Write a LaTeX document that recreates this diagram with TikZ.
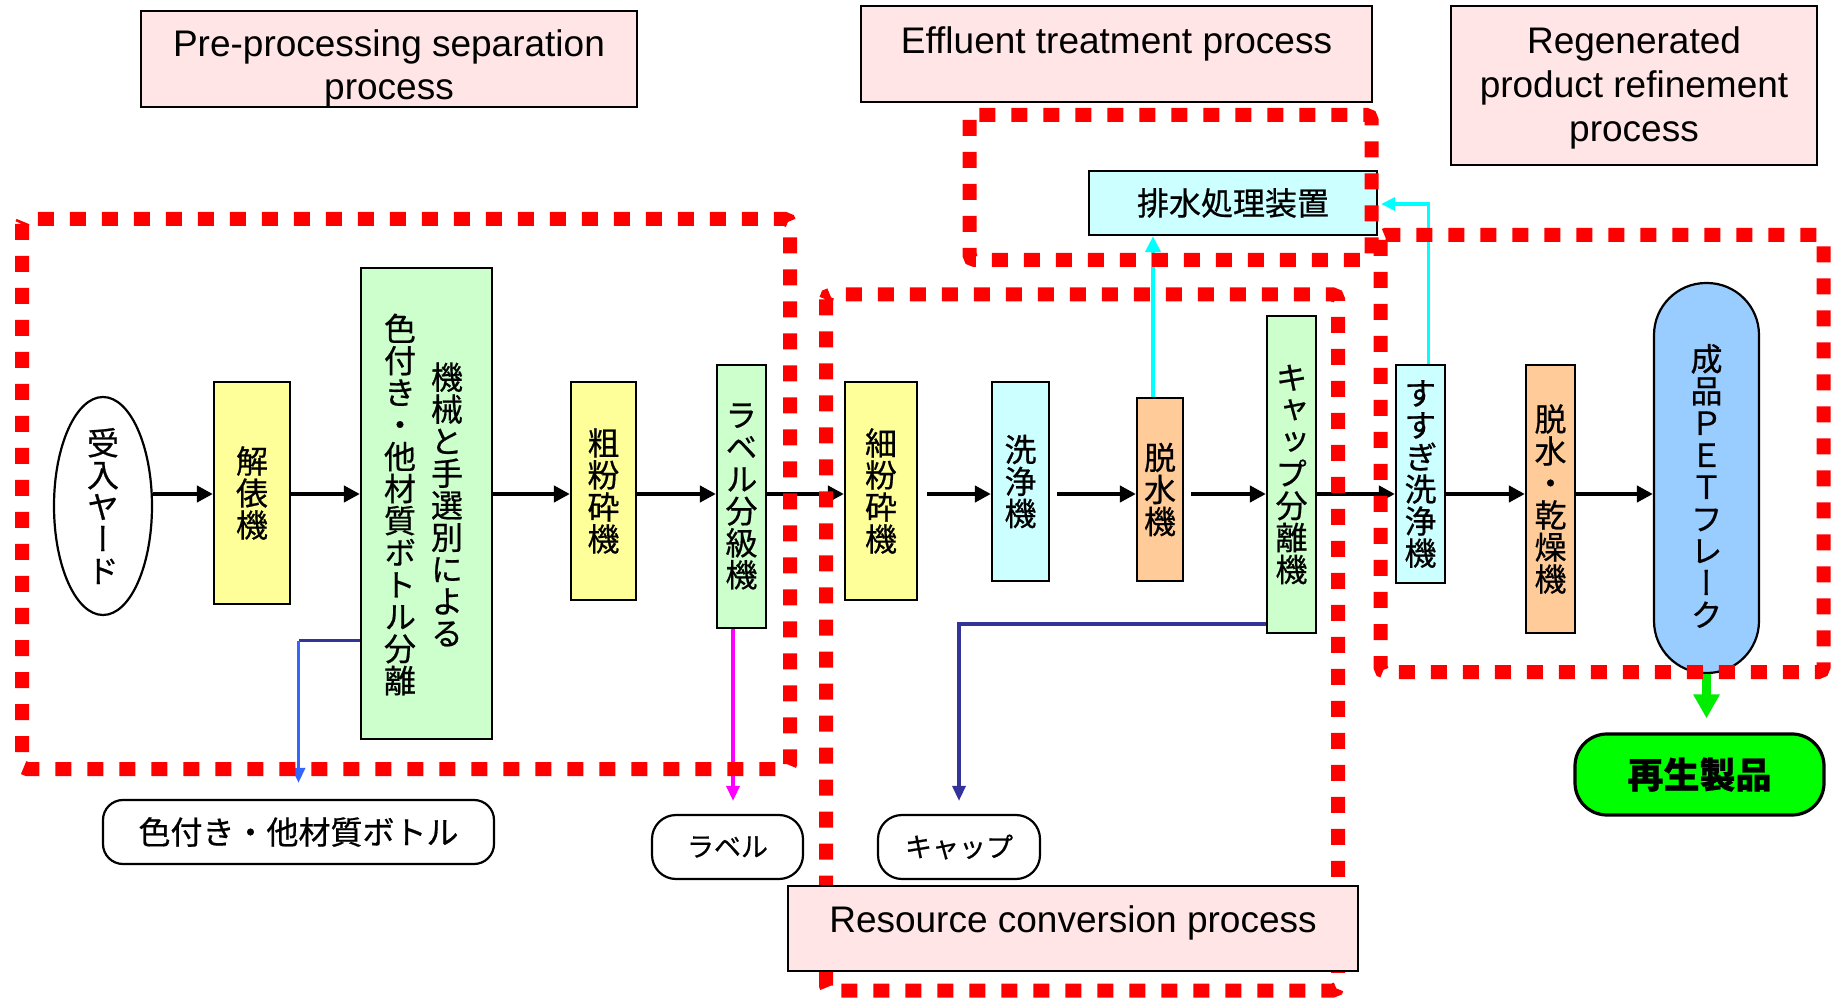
\documentclass[tikz,border=0pt]{standalone}
\usepackage{fontspec}
\setmainfont{Liberation Sans}
\newfontfamily\jp[FakeBold=0.6]{Noto Sans CJK JP}
\newfontfamily\jpv[RawFeature=+vert,FakeBold=0.6]{Noto Sans CJK JP}
\usetikzlibrary{arrows.meta,shapes.geometric,calc}

\definecolor{boxyellow}{HTML}{FFFF99}
\definecolor{boxgreen}{HTML}{CCFFCC}
\definecolor{boxcyan}{HTML}{CCFFFF}
\definecolor{boxorange}{HTML}{FFCC99}
\definecolor{boxblue}{HTML}{99CCFF}
\definecolor{prodgreen}{HTML}{00FF00}
\definecolor{titlepink}{HTML}{FFE5E5}
\definecolor{navyline}{HTML}{333399}
\definecolor{blueline}{HTML}{3366FF}
\definecolor{magline}{HTML}{FF00FF}
\definecolor{cyanline}{HTML}{00FFFF}
\definecolor{zonered}{HTML}{FF0000}

\begin{document}
\begin{tikzpicture}[x=0.5pt, y=-0.5pt,
  machine/.style={draw=black, line width=1.1pt, inner sep=0pt, align=center,
    font=\jpv\fontsize{16}{16}\selectfont},
  vtext/.style={inner sep=0pt, align=center, font=\jpv\fontsize{16}{16}\selectfont},
  outbox/.style={draw=black, line width=1.1pt, fill=white, inner sep=0pt,
    rounded corners=12pt, minimum height=32pt, font=\jp\fontsize{13.5}{13.5}\selectfont},
  titlebox/.style={draw=black, line width=1.1pt, fill=titlepink, inner sep=0pt},
  titletext/.style={inner sep=0pt, align=center, font=\fontsize{18.5}{21.5}\selectfont},
  zone/.style={draw=zonered, line width=7pt, dash pattern=on 8pt off 8pt, rounded corners=2.5pt},
  flow/.style={line width=2.3pt, -{Triangle[length=8pt,width=8pt]}},
  side/.style={line width=1.7pt, -{Triangle[length=7.5pt,width=6.5pt]}},
]
\useasboundingbox (0,0) rectangle (1836,999);
\coordinate (mainline) at (0,494);

% ---- process units ----
\node[ellipse, draw=black, line width=1.1pt, fill=white, inner sep=0pt,
      minimum width=49pt, minimum height=109pt] (yard) at (103,506) {};
\node[vtext] at (yard) {受\\入\\ヤ\\ー\\ド};

\node[machine, fill=boxyellow, minimum width=38pt, minimum height=111pt] (kaihyo) at (252,493) {解\\俵\\機};

\node[machine, fill=boxgreen, minimum width=65.5pt, minimum height=235.5pt] (sep) at (426.5,503.5) {};
\node[vtext] at (447,504.5) {機\\械\\と\\手\\選\\別\\に\\よ\\る};
\node[vtext] at (400,504.5) {色\\付\\き\\・\\他\\材\\質\\ボ\\ト\\ル\\分\\離};

\node[machine, fill=boxyellow, minimum width=32.5pt, minimum height=109pt] (coarse) at (603.5,491) {粗\\粉\\砕\\機};
\node[machine, fill=boxgreen, minimum width=24.5pt, minimum height=131.5pt] (lblsep) at (741.5,496.5) {ラ\\ベ\\ル\\分\\級\\機};
\node[machine, fill=boxyellow, minimum width=36pt, minimum height=109pt] (fine) at (881,491) {細\\粉\\砕\\機};
\node[machine, fill=boxcyan, minimum width=28.5pt, minimum height=99.5pt] (wash) at (1020.5,481.5) {洗\\浄\\機};
\node[machine, fill=boxorange, minimum width=23pt, minimum height=91.5pt] (dewat) at (1160,489.5) {脱\\水\\機};
\node[machine, fill=boxgreen, minimum width=24.5pt, minimum height=158.5pt] (capsep) at (1291.5,474.5) {キ\\ャ\\ッ\\プ\\分\\離\\機};
\node[machine, fill=boxcyan, minimum width=24.5pt, minimum height=109pt] (rinse) at (1420.5,474) {す\\す\\ぎ\\洗\\浄\\機};
\node[machine, fill=boxorange, minimum width=24.5pt, minimum height=134pt] (dry) at (1550.5,499) {脱\\水\\・\\乾\\燥\\機};
\node[machine, fill=boxblue, rounded corners=26pt, minimum width=52.5pt, minimum height=195pt] (flake) at (1706.5,478) {};
\node[vtext] at (1706.5,486) {成\\品\\Ｐ\\Ｅ\\Ｔ\\フ\\レ\\ー\\ク};

\node[machine, fill=boxcyan, minimum width=144pt, minimum height=32pt,
      font=\jp\fontsize{16}{16}\selectfont] (haisui) at (1233,203) {排水処理装置};

% ---- outputs ----
\node[draw=black, line width=1.6pt, fill=prodgreen, rounded corners=16pt, inner sep=0pt,
      minimum width=124.5pt, minimum height=40.5pt,
      font=\jp\bfseries\fontsize{18}{18}\selectfont] (prod) at (1699.5,774.5) {再生製品};
\node[outbox, rounded corners=10pt, minimum width=195.5pt, font=\jp\fontsize{16}{16}\selectfont]
      (colored) at (298.5,832) {色付き・他材質ボトル};
\node[outbox, minimum width=75.5pt] (label) at (727.5,847) {ラベル};
\node[outbox, minimum width=81pt] (cap) at (959,847) {キャップ};

% ---- main flow ----
\draw[flow] (yard.east |- mainline) -- (kaihyo.west |- mainline);
\draw[flow] (kaihyo.east |- mainline) -- (sep.west |- mainline);
\draw[flow] (sep.east |- mainline) -- (coarse.west |- mainline);
\draw[flow] (coarse.east |- mainline) -- (lblsep.west |- mainline);
\draw[flow] (lblsep.east |- mainline) -- (fine.west |- mainline);
\draw[flow, shorten <=4.5pt] (fine.east |- mainline) -- (wash.west |- mainline);
\draw[flow, shorten <=3.5pt] (wash.east |- mainline) -- (dewat.west |- mainline);
\draw[flow, shorten <=3.5pt] (dewat.east |- mainline) -- (capsep.west |- mainline);
\draw[flow] (capsep.east |- mainline) -- (rinse.west |- mainline);
\draw[flow] (rinse.east |- mainline) -- (dry.west |- mainline);
\draw[flow] (dry.east |- mainline) -- (flake.west |- mainline);

% ---- side streams ----
\coordinate (sepout) at ($(sep.west)+(0,137)$);
\coordinate (bend1) at (sepout -| colored.north);
\draw[navyline, line width=1.9pt] (sepout) -- (bend1);
\draw[side, blueline] (bend1) -- ($(colored.north)+(0,-16)$);

\coordinate (lblout) at ($(lblsep.south)+(-8.5,0)$);
\draw[side, magline] (lblout) -- ($(lblout |- label.north)+(0,-13)$);

\draw[side, navyline] ($(capsep.west)+(0,149.5)$) -| ($(cap.north)+(0,-13)$);

\coordinate (dwout) at ($(dewat.north)+(-7,0)$);
\draw[cyanline, line width=2.3pt, -{Triangle[length=8pt,width=7.5pt]}] (dwout) -- (dwout |- haisui.south);

\draw[cyanline, line width=1.8pt, -{Triangle[length=7pt,width=6.5pt]}]
      ($(rinse.north)+(8,0)$) |- ($(haisui.east)+(3,1)$);

\draw[prodgreen!93!black, line width=4.5pt, -{Triangle[length=12pt,width=12.5pt]}]
      (flake.south) -- ($(flake.south |- prod.north)+(0,-14)$);

% ---- process zones ----
\draw[zone] (22,219) rectangle (790,769);
\draw[zone] (969.5,115) rectangle (1371.5,260);
\draw[zone] (826,294.5) rectangle (1338,990.5);
\draw[zone] (1380.5,235) rectangle (1823.5,672);

% ---- zone titles ----
\node[titlebox, minimum width=248pt, minimum height=48pt] (t1) at (389,59) {};
\node[titletext] at (389,68.5) {Pre-processing separation\\process};
\node[titlebox, minimum width=255.5pt, minimum height=48pt] (t2) at (1116.5,54) {};
\node[titletext] at (1116.5,43.5) {Effluent treatment process};
\node[titlebox, minimum width=183pt, minimum height=79.5pt] (t3) at (1634,85.5) {};
\node[titletext, font=\fontsize{18.5}{22}\selectfont] at (1634,88) {Regenerated\\product refinement\\process};
\node[titlebox, minimum width=285pt, minimum height=42.5pt] (t4) at (1073,928.5) {};
\node[titletext] at (1073,922.5) {Resource conversion process};
\end{tikzpicture}
\end{document}
